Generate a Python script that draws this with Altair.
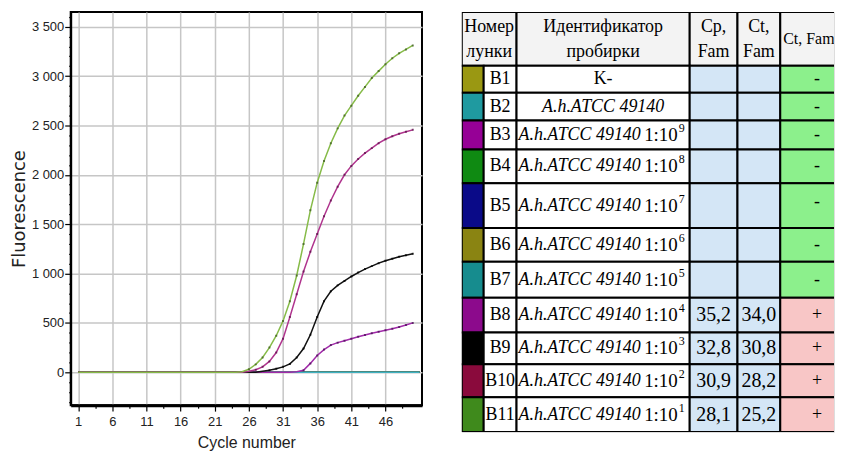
import altair as alt
import numpy as np
import pandas as pd

# ---------------- amplification curves ----------------
cycles = list(range(1, 51))
b11 = [0] * 24 + [5, 30, 80, 150, 250, 370, 520, 720, 980, 1300, 1640, 1920, 2140,
                  2320, 2470, 2600, 2700, 2800, 2890, 2980, 3050, 3120, 3180, 3230, 3270, 3310]
b10 = [0] * 25 + [10, 25, 55, 110, 200, 340, 560, 790, 1020, 1220, 1400, 1580, 1740,
                  1880, 2000, 2090, 2160, 2220, 2270, 2320, 2360, 2390, 2415, 2435, 2455]
b9 = [0] * 27 + [10, 20, 35, 55, 85, 150, 240, 380, 560, 720, 820, 880, 925, 970, 1010,
                 1045, 1075, 1105, 1130, 1150, 1170, 1185, 1200]
b8 = [0] * 32 + [5, 20, 90, 170, 230, 275, 300, 320, 340, 360, 378, 395, 410, 425, 440,
                 458, 478, 500]
neg_cycles = list(range(1, 52))
neg_values = [0] * 51

pos_wells = ["B8", "B9", "B10", "B11"]
pos_series = [b8, b9, b10, b11]
neg_wells = ["B1", "B2", "B3", "B4", "B5", "B6", "B7"]

line_colors = {"B1": "#9a9812", "B2": "#1f9aa0", "B3": "#960096", "B4": "#0f8a12",
               "B5": "#0a0a88", "B6": "#8a8412", "B7": "#3fb2c2", "B8": "#a12aa9",
               "B9": "#111111", "B10": "#b0358e", "B11": "#86bb48"}
dot_colors = {"B8": "#4a0f55", "B9": "#000000", "B10": "#5a1048", "B11": "#3d5a20"}

# ---------------- table ----------------
wells = ["B1", "B2", "B3", "B4", "B5", "B6", "B7", "B8", "B9", "B10", "B11"]
swatch = ["#9a9812", "#1f9aa0", "#960096", "#0f8a12", "#0a0a88", "#8a8412", "#168c8e",
          "#8c0a8c", "#000000", "#8a0a3c", "#3f8a1c"]
sample_base = ["K-", "A.h.ATCC 49140"] + ["A.h.ATCC 49140"] * 9
dilution = ["", "", "1:10", "1:10", "1:10", "1:10", "1:10", "1:10", "1:10", "1:10", "1:10"]
dil_exp = ["", "", "9", "8", "7", "6", "5", "4", "3", "2", "1"]
cp_vals = [""] * 7 + ["35,2", "32,8", "30,9", "28,1"]
ct_vals = [""] * 7 + ["34,0", "30,8", "28,2", "25,2"]
results = ["-"] * 7 + ["+"] * 4
header1 = ["Номер", "Идентификатор", "Cp,", "Ct,"]
header2 = ["лунки", "пробирки", "Fam", "Fam"]
header_last = "Ct, Fam"

# ---------------- layout (sizes only) ----------------
col_w = [22, 33, 174, 48, 43, 79]
head_h = 54
row_h = [27, 28, 29, 34, 45, 34, 36, 35, 32, 33, 35]
TW, TH = 374, head_h + sum(row_h)
cx = np.concatenate([[0], np.cumsum(col_w)]).astype(float)
ry = head_h + np.concatenate([[0], np.cumsum(row_h)]).astype(float)

SANS = "Liberation Sans, Arial, sans-serif"
SERIF = "Liberation Serif, Times New Roman, serif"

# ---------------- chart data frames ----------------
pos_df = pd.DataFrame({
    "cycle": cycles * len(pos_wells),
    "value": sum(pos_series, []),
    "well": sum([[w] * len(cycles) for w in pos_wells], []),
})
pos_df["dot"] = pos_df["well"].map(dot_colors)
neg_df = pd.DataFrame({
    "cycle": neg_cycles * len(neg_wells),
    "value": neg_values * len(neg_wells),
    "well": sum([[w] * len(neg_cycles) for w in neg_wells], []),
})

x_major = "(datum.value - 1) % 5 === 0"
y_major = "datum.value % 500 === 0"
x_ticks = sorted([1 + 5 * i for i in range(10)] + [3.5 + 5 * i for i in range(10)])
y_ticks = list(range(-300, 3601, 100))

x_axis = alt.Axis(
    values=x_ticks, labelExpr=f"{x_major} ? format(datum.value, 'd') : ''",
    tickSize={"condition": {"test": x_major, "value": 6}, "value": 3},
    gridOpacity={"condition": {"test": x_major, "value": 1}, "value": 0},
    grid=True, gridColor="#c6c6c6", gridWidth=1.5,
    domainColor="black", domainWidth=3, tickColor="black", tickWidth=1.2,
    labelFont=SANS, labelFontSize=13, labelColor="#222", labelPadding=4,
    labelFlush=False, labelOverlap=False,
    titleFont=SANS, titleFontSize=16, titleFontWeight="normal",
    titleColor="#222", titlePadding=7,
)
y_axis = alt.Axis(
    values=y_ticks,
    labelExpr=f"{y_major} ? replace(format(datum.value, ','), ',', ' ') : ''",
    tickSize={"condition": {"test": y_major, "value": 6}, "value": 2},
    gridOpacity={"condition": {"test": y_major, "value": 1}, "value": 0},
    grid=True, gridColor="#c6c6c6", gridWidth=1.5,
    domainColor="black", domainWidth=2, tickColor="black", tickWidth=1.2,
    labelFont=SANS, labelFontSize=13, labelColor="#222", labelPadding=1,
    labelFlush=False, labelOverlap=False,
    titleFont="DejaVu Sans", titleFontSize=18, titleFontWeight="normal",
    titleColor="#222", titlePadding=3,
)

X = alt.X("cycle:Q", scale=alt.Scale(domain=[-0.1, 51.35], nice=False, zero=False),
          axis=x_axis, title="Cycle number")
Y = alt.Y("value:Q", scale=alt.Scale(domain=[-333, 3648], nice=False, zero=False),
          axis=y_axis, title="Fluorescence")
C = alt.Color("well:N", scale=alt.Scale(domain=wells, range=[line_colors[w] for w in wells]),
              legend=None)

neg_other = alt.Chart(neg_df).transform_filter("datum.well !== 'B7'").mark_line(
    strokeWidth=1.6, clip=True).encode(x=X, y=Y, color=C, detail="well:N")
neg_b7 = alt.Chart(neg_df).transform_filter("datum.well === 'B7'").mark_line(
    strokeWidth=1.6, clip=True).encode(x=X, y=Y, color=C, detail="well:N")
pos_lines = alt.Chart(pos_df).mark_line(strokeWidth=1.5, clip=True).encode(
    x=X, y=Y, color=C, detail="well:N")
pos_dots = alt.Chart(pos_df).transform_filter("datum.value >= 15").mark_square(
    size=4, opacity=0.75, clip=True).encode(
    x=X, y=Y, fill=alt.Fill("dot:N", scale=None))

left = alt.layer(neg_other, neg_b7, pos_lines, pos_dots).properties(
    width=353, height=395,
    view=alt.ViewBackground(stroke="black", strokeWidth=2),
)

# ---------------- table frames ----------------
cells = []
hdr_fill = "#f3f3f3"
for a, b in [(0, 2), (2, 3), (3, 4), (4, 5), (5, 6)]:
    cells.append({"x0": cx[a], "x1": cx[b], "y0": 0.0, "y1": float(head_h), "fill": hdr_fill})
for i, w in enumerate(wells):
    fills = [swatch[i], "#ffffff", "#ffffff", "#d4e6f6", "#d4e6f6",
             "#8cf08c" if results[i] == "-" else "#f8c6c6"]
    for j in range(6):
        cells.append({"x0": cx[j], "x1": cx[j + 1], "y0": ry[i], "y1": ry[i + 1], "fill": fills[j]})
cells_df = pd.DataFrame(cells)

xs = alt.Scale(domain=[0, TW], nice=False, zero=False)
ys = alt.Scale(domain=[0, TH], nice=False, zero=False, reverse=True)
TX = alt.X("tx:Q", scale=xs, axis=None)
TY = alt.Y("ty:Q", scale=ys, axis=None)

rects = alt.Chart(cells_df).mark_rect(stroke="black", strokeWidth=2, clip=True).encode(
    x=alt.X("x0:Q", scale=xs, axis=None), x2="x1:Q",
    y=alt.Y("y0:Q", scale=ys, axis=None), y2="y1:Q",
    fill=alt.Fill("fill:N", scale=None))

centers = [(cx[0] + cx[2]) / 2, (cx[2] + cx[3]) / 2, (cx[3] + cx[4]) / 2, (cx[4] + cx[5]) / 2]
plain = []
for k in range(4):
    plain.append({"tx": centers[k], "ty": 15.0, "label": header1[k], "fs": 18})
    plain.append({"tx": centers[k], "ty": 40.0, "label": header2[k], "fs": 18})
italic_c, italic_l, dil_r, sup_l = [], [], [], []
for i, w in enumerate(wells):
    yc = (ry[i] + ry[i + 1]) / 2
    plain.append({"tx": (cx[1] + cx[2]) / 2, "ty": yc, "label": w, "fs": 18})
    plain.append({"tx": (cx[3] + cx[4]) / 2, "ty": yc, "label": cp_vals[i], "fs": 20})
    plain.append({"tx": (cx[4] + cx[5]) / 2, "ty": yc, "label": ct_vals[i], "fs": 20})
    plain.append({"tx": cx[5] + 37, "ty": yc - (4 if i == 4 else 0), "label": results[i], "fs": 18})
    if dilution[i] == "":
        if sample_base[i].startswith("A."):
            italic_c.append({"tx": (cx[2] + cx[3]) / 2, "ty": yc, "label": sample_base[i]})
        else:
            plain.append({"tx": (cx[2] + cx[3]) / 2, "ty": yc, "label": sample_base[i], "fs": 18})
    else:
        italic_l.append({"tx": cx[2] + 2, "ty": yc, "label": sample_base[i]})
        dil_r.append({"tx": cx[3] - 12, "ty": yc, "label": dilution[i]})
        sup_l.append({"tx": cx[3] - 11, "ty": yc - 7, "label": dil_exp[i]})

plain_df = pd.DataFrame(plain)
t_plain = alt.Chart(plain_df).mark_text(font=SERIF, align="center", baseline="middle",
                                        color="black", clip=True).encode(
    x=TX, y=TY, text="label:N", size=alt.Size("fs:Q", scale=None, legend=None))
t_ital_c = alt.Chart(pd.DataFrame(italic_c)).mark_text(
    font=SERIF, fontStyle="italic", fontSize=18, align="center", baseline="middle",
    color="black").encode(x=TX, y=TY, text="label:N")
t_ital_l = alt.Chart(pd.DataFrame(italic_l)).mark_text(
    font=SERIF, fontStyle="italic", fontSize=18, align="left", baseline="middle",
    color="black").encode(x=TX, y=TY, text="label:N")
t_dil = alt.Chart(pd.DataFrame(dil_r)).mark_text(
    font=SERIF, fontSize=19, align="right", baseline="middle",
    color="black").encode(x=TX, y=TY, text="label:N")
t_sup = alt.Chart(pd.DataFrame(sup_l)).mark_text(
    font=SERIF, fontSize=12, align="left", baseline="middle",
    color="black").encode(x=TX, y=TY, text="label:N")
t_last = alt.Chart(pd.DataFrame([{"tx": cx[5] + 3, "ty": head_h / 2, "label": header_last}])).mark_text(
    font=SERIF, fontSize=16, align="left", baseline="middle", color="black",
    clip=True).encode(x=TX, y=TY, text="label:N")

table = alt.layer(rects, t_plain, t_ital_c, t_ital_l, t_dil, t_sup, t_last).properties(
    width=TW, height=TH)

chart = alt.hconcat(left, table, spacing=38).properties(
    padding={"left": 1, "top": 0, "right": 0, "bottom": 0},
).configure_view(stroke=None).configure(background="white")

chart.save("out.html", embed_options={"renderer": "svg", "actions": False})
